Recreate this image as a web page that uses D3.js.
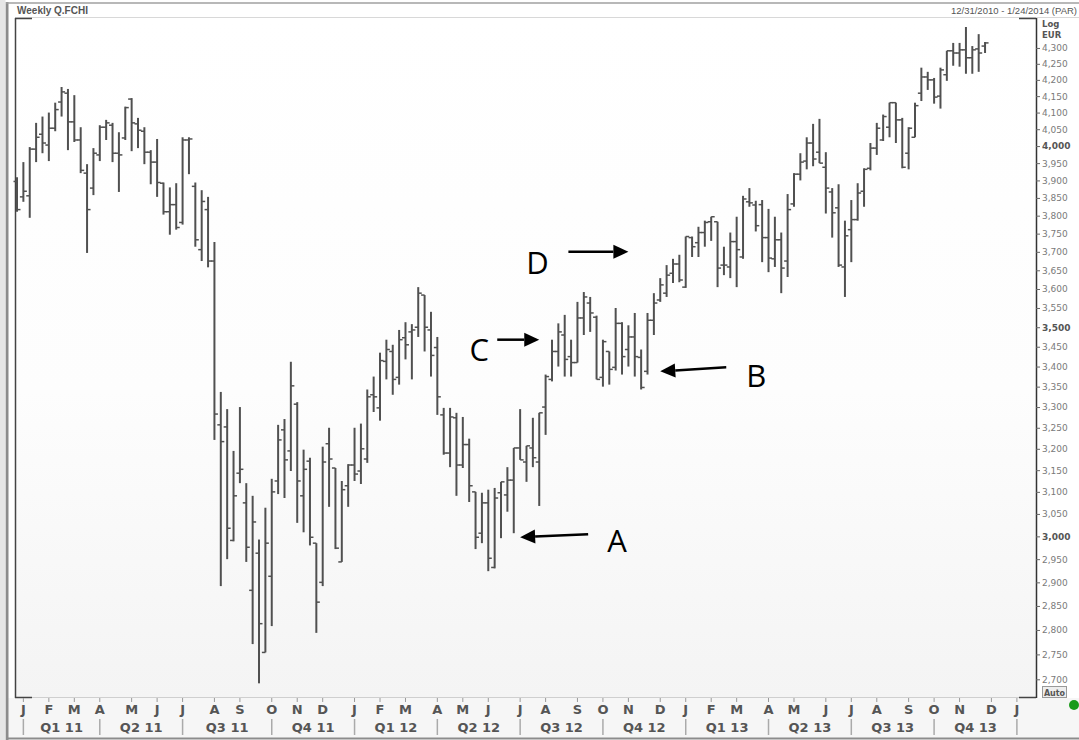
<!DOCTYPE html>
<html><head><meta charset="utf-8">
<script src="https://cdn.jsdelivr.net/npm/d3@7"></script>
<style>body{margin:0;background:#fff;} svg{display:block;}</style>
</head><body><svg id="c" width="1079" height="740"></svg>
<script>
// ---- data ----
const startDate = new Date(2010, 11, 31);   // first weekly bar
const endDate = new Date(2014, 0, 24);      // end of displayed range
const titleText = "Weekly Q.FCHI";
const rangeText = "12/31/2010 - 1/24/2014 (PAR)";
const openV = [3897,3853,3856,3991,4035,4003,4053,4132,4159,4072,4018,3921,3878,3974,4056,4062,3979,4024,4141,4066,
4044,3982,3953,3892,3811,3831,3781,4018,3883,3706,3817,3675,3257,3252,2991,3143,3075,2883,2963,2754,
2913,3125,3245,3195,3307,3091,3171,2985,2900,3212,3155,2944,3114,3162,3148,3176,3330,3298,3413,3438,
3373,3473,3488,3500,3584,3493,3448,3281,3190,3274,3162,3210,3100,3007,3075,2932,3098,3093,3127,3202,
3169,3202,3169,3300,3368,3438,3480,3425,3410,3524,3563,3526,3373,3438,3398,3510,3443,3475,3423,3388,
3518,3571,3589,3642,3667,3605,3739,3725,3753,3783,3783,3664,3659,3728,3686,3839,3830,3831,3739,3681,
3733,3675,3833,3918,3956,4009,3982,3938,3867,3822,3659,3761,3789,3869,3935,3994,4018,4056,4130,4078,
3979,4026,4159,4209,4200,4150,4216,4291,4284,4294,4269,4297,4306];
const highV = [3909,3953,3997,4069,4088,4100,4130,4178,4172,4153,4056,3947,3994,4062,4078,4069,4041,4118,4144,4084,
4056,3988,4021,3894,3880,3892,4026,4026,3894,3872,3853,3727,3337,3295,3195,3300,3120,3091,2993,3064,
3130,3257,3271,3412,3312,3198,3179,2985,3205,3250,3155,3125,3164,3250,3260,3343,3375,3435,3468,3455,
3493,3513,3508,3605,3584,3540,3475,3298,3298,3286,3276,3224,3100,3098,3105,3109,3123,3157,3202,3295,
3207,3274,3286,3380,3468,3510,3532,3468,3566,3592,3579,3530,3468,3438,3550,3513,3505,3537,3443,3537,
3589,3629,3664,3681,3692,3742,3742,3769,3786,3797,3783,3714,3753,3797,3856,3878,3842,3844,3819,3797,
3753,3861,3921,3979,4026,4066,4081,3982,3878,3889,3786,3844,3892,3935,4009,4069,4094,4130,4130,4084,
4056,4130,4238,4225,4206,4238,4291,4316,4316,4367,4306,4344,4319];
const lowV = [3811,3839,3794,3953,3979,3956,4044,4088,3988,4012,3921,3697,3858,3956,4018,3953,3867,4018,3985,3994,
3947,3889,3853,3803,3747,3761,3775,3918,3714,3675,3658,3221,2892,2950,2989,3120,2944,2771,2692,2754,
2808,3095,3086,3148,3030,3009,2980,2794,2892,3066,2972,2944,3066,3125,3118,3167,3288,3267,3368,3330,
3355,3418,3368,3475,3438,3375,3281,3186,3157,3091,3155,3077,2972,2985,2924,2930,2996,3055,3007,3174,
3123,3157,3068,3233,3363,3400,3375,3375,3410,3480,3488,3368,3350,3355,3390,3380,3400,3375,3343,3380,
3480,3566,3579,3616,3618,3603,3686,3686,3714,3730,3605,3637,3629,3605,3681,3825,3756,3672,3645,3659,
3589,3632,3825,3900,3932,3941,3950,3806,3739,3659,3579,3672,3786,3825,3929,3974,4015,4026,4009,3935,
3932,4026,4135,4169,4127,4112,4197,4244,4241,4219,4219,4225,4284];
const closeV = [3817,3869,3991,4026,4009,4053,4109,4163,4072,4018,3929,3817,3979,4056,4069,3979,3974,4115,4069,4047,
3982,3953,3894,3811,3831,3767,4018,4021,3733,3840,3675,3283,3217,3018,3091,3152,2976,3032,2813,2985,
3100,3221,3174,3352,3125,3152,2998,2858,3169,3176,2974,3105,3162,3141,3200,3325,3325,3415,3443,3368,
3468,3455,3493,3589,3500,3428,3325,3190,3276,3162,3210,3114,2998,3075,2952,3086,3123,3127,3202,3174,
3207,3179,3286,3375,3438,3488,3418,3410,3524,3579,3537,3368,3463,3393,3510,3425,3475,3425,3348,3518,
3563,3611,3637,3667,3624,3742,3714,3753,3781,3797,3656,3664,3728,3706,3847,3836,3772,3739,3683,3733,
3656,3817,3918,3953,4009,3962,3950,3878,3808,3664,3744,3789,3864,3932,3994,4053,4088,4130,4078,3938,
4053,4121,4209,4200,4147,4231,4291,4284,4294,4269,4294,4284,4316];
const yTickValues = [2700,2750,2800,2850,2900,2950,3000,3050,3100,3150,3200,3250,3300,3350,3400,3450,3500,
3550,3600,3650,3700,3750,3800,3850,3900,3950,4000,4050,4100,4150,4200,4250,4300];
const boldTicks = [3000, 3500, 4000];
const monthLetters = ["J","F","M","A","M","J","J","A","S","O","N","D"];
const quarterLabels = ["Q1 11","Q2 11","Q3 11","Q4 11","Q1 12","Q2 12","Q3 12","Q4 12","Q1 13","Q2 13","Q3 13","Q4 13"];
const annotations = [
  {label:"A", week:79, price:2998, tail:[68,-3], text:[97,3]},
  {label:"B", week:101, price:3388, tail:[66,-4], text:[96,4]},
  {label:"C", week:82, price:3468, tail:[-42,0], text:[-60,9]},
  {label:"D", week:96, price:3700, tail:[-60,0], text:[-91,10]}
];

// ---- layout ----
const W = 1079, H = 740;
const L = 15, R = 1036, T = 18, B = 697;
const svg = d3.select("#c");
const dateOf = i => d3.timeDay.offset(startDate, 7 * i);
const bars = openV.map((o, i) => ({d: dateOf(i), o, h: highV[i], l: lowV[i], c: closeV[i]}));

const x = d3.scaleTime().domain([startDate, endDate]).range([17, R]);
const y = d3.scaleLog().domain([2665, 4396]).range([B, T]);

// gradient
const defs = svg.append("defs");
const g1 = defs.append("linearGradient").attr("id", "bg").attr("x1", 0).attr("y1", 0).attr("x2", 0).attr("y2", 1);
g1.append("stop").attr("offset", "0%").attr("stop-color", "#ffffff");
g1.append("stop").attr("offset", "55%").attr("stop-color", "#fdfdfd");
g1.append("stop").attr("offset", "100%").attr("stop-color", "#f4f4f4");

svg.append("rect").attr("width", W).attr("height", H).attr("fill", "#ffffff");
svg.append("rect").attr("x", 8).attr("y", B + 1).attr("width", W - 8).attr("height", H - B - 3).attr("fill", "#f6f6f6");
svg.append("rect").attr("x", L).attr("y", T).attr("width", R - L).attr("height", B - T).attr("fill", "url(#bg)");

// outer frame
svg.append("line").attr("x1", 7).attr("x2", 7).attr("y1", 2).attr("y2", H).attr("stroke", "#8c8c8c").attr("stroke-width", 3);
svg.append("rect").attr("x", 0).attr("y", 0).attr("width", 5.5).attr("height", H).attr("fill", "#e6e6e6");
svg.append("line").attr("x1", 6).attr("x2", W).attr("y1", 3).attr("y2", 3).attr("stroke", "#a0a0a0").attr("stroke-width", 1.5);
svg.append("line").attr("x1", 6).attr("x2", W).attr("y1", 738.5).attr("y2", 738.5).attr("stroke", "#8c8c8c").attr("stroke-width", 2);

// title texts
svg.append("text").attr("x", 17).attr("y", 14).text(titleText)
  .attr("font-family", "Liberation Sans, Arial, sans-serif").attr("font-weight", "bold").attr("font-size", 10).attr("fill", "#555");
svg.append("text").attr("x", 1077).attr("y", 14).attr("text-anchor", "end").text(rangeText)
  .attr("font-family", "Liberation Sans, Arial, sans-serif").attr("font-size", 9.5).attr("fill", "#555");

// plot frame
svg.append("line").attr("x1", L).attr("x2", W).attr("y1", 17.5).attr("y2", 17.5).attr("stroke", "#d8d8d8");
svg.append("line").attr("x1", L).attr("x2", R).attr("y1", B + 0.5).attr("y2", B + 0.5).attr("stroke", "#cfcfcf");
svg.append("line").attr("x1", L + 0.5).attr("x2", L + 0.5).attr("y1", T).attr("y2", B + 1).attr("stroke", "#444").attr("stroke-width", 1.5);
[[L, T], [R - 17, T], [L, B], [R - 17, B]].forEach(([a, b]) => {
  svg.append("line").attr("x1", a).attr("x2", a + 17).attr("y1", b + 0.5).attr("y2", b + 0.5).attr("stroke", "#444").attr("stroke-width", 1.5);
});

// y axis
const yAxis = d3.axisRight(y).tickValues(yTickValues).tickFormat(d3.format(",")).tickSize(4).tickPadding(2);
const ya = svg.append("g").attr("transform", `translate(${R},0)`).call(yAxis);
ya.select(".domain").attr("stroke", "#333").attr("stroke-width", 1.5).attr("d", `M0.5,${T}V${B + 1}`);
ya.selectAll(".tick line").attr("stroke", "#666");
ya.selectAll(".tick text").attr("font-family", "DejaVu Sans, Verdana, sans-serif").attr("font-size", 9)
  .attr("fill", d => boldTicks.includes(d) ? "#555" : "#7a7a7a")
  .attr("font-weight", d => boldTicks.includes(d) ? "bold" : "normal");
svg.append("text").attr("x", 1042).attr("y", 27).text("Log")
  .attr("font-family", "DejaVu Sans, Verdana, sans-serif").attr("font-weight", "bold").attr("font-size", 8.5).attr("fill", "#555");
svg.append("text").attr("x", 1042).attr("y", 38).text("EUR")
  .attr("font-family", "DejaVu Sans, Verdana, sans-serif").attr("font-weight", "bold").attr("font-size", 8.5).attr("fill", "#555");

// Auto box & status dot
svg.append("rect").attr("x", 1042.5).attr("y", 686.5).attr("width", 24).attr("height", 11).attr("fill", "#eeeeee").attr("stroke", "#999");
svg.append("text").attr("x", 1054.5).attr("y", 695.5).attr("text-anchor", "middle").text("Auto")
  .attr("font-family", "DejaVu Sans, Verdana, sans-serif").attr("font-weight", "bold").attr("font-size", 8).attr("fill", "#555");
svg.append("circle").attr("cx", 1074).attr("cy", 705).attr("r", 5).attr("fill", "#1a9a1a");

// x axis: month letters
const months = d3.timeMonth.range(new Date(2011, 0, 1), new Date(2014, 0, 2));
const monthPos = months.map(m => ({m, px: x(d3.timeFriday.ceil(m))}));
const xa = svg.append("g");
xa.selectAll("line.mt").data(monthPos).join("line").attr("class", "mt")
  .attr("x1", d => d.px).attr("x2", d => d.px).attr("y1", B + 1).attr("y2", B + 5).attr("stroke", "#999");
xa.selectAll("text.ml").data(monthPos).join("text").attr("class", "ml")
  .attr("x", d => d.px).attr("y", 714).attr("text-anchor", "middle")
  .text(d => monthLetters[d.m.getMonth()])
  .attr("font-family", "DejaVu Sans, Verdana, sans-serif").attr("font-weight", "bold").attr("font-size", 13).attr("fill", "#555");
// quarters
const qStarts = monthPos.filter(d => d.m.getMonth() % 3 === 0);
xa.selectAll("line.qs").data(qStarts).join("line").attr("class", "qs")
  .attr("x1", d => d.px).attr("x2", d => d.px).attr("y1", 719).attr("y2", 735).attr("stroke", "#aaa").attr("stroke-width", 1.5);
xa.selectAll("text.ql").data(quarterLabels).join("text").attr("class", "ql")
  .attr("x", (d, i) => (qStarts[i].px + qStarts[i + 1].px) / 2).attr("y", 732).attr("text-anchor", "middle")
  .text(d => d)
  .attr("font-family", "DejaVu Sans, Verdana, sans-serif").attr("font-weight", "bold").attr("font-size", 13).attr("fill", "#555");

// OHLC bars
const gb = svg.append("g").attr("stroke", "#505050");
gb.selectAll("line.hl").data(bars).join("line").attr("class", "hl")
  .attr("x1", d => x(d.d)).attr("x2", d => x(d.d)).attr("y1", d => y(d.h)).attr("y2", d => y(d.l)).attr("stroke-width", 2);
gb.selectAll("line.op").data(bars).join("line").attr("class", "op")
  .attr("x1", d => x(d.d) - 3.5).attr("x2", d => x(d.d)).attr("y1", d => y(d.o)).attr("y2", d => y(d.o)).attr("stroke-width", 1.5);
gb.selectAll("line.cl").data(bars).join("line").attr("class", "cl")
  .attr("x1", d => x(d.d)).attr("x2", d => x(d.d) + 3.5).attr("y1", d => y(d.c)).attr("y2", d => y(d.c)).attr("stroke-width", 1.5);

// annotations
const ga = svg.append("g");
annotations.forEach(a => {
  const tx = x(dateOf(a.week)), ty = y(a.price);
  const sx = tx + a.tail[0], sy = ty + a.tail[1];
  const ang = Math.atan2(ty - sy, tx - sx);
  const hl = 15, hw = 7;
  const bx = tx - hl * Math.cos(ang), by = ty - hl * Math.sin(ang);
  ga.append("line").attr("x1", sx).attr("y1", sy).attr("x2", bx).attr("y2", by).attr("stroke", "#000").attr("stroke-width", 2.5);
  const px = -Math.sin(ang), py = Math.cos(ang);
  ga.append("polygon").attr("fill", "#000")
    .attr("points", [[tx, ty], [bx + px * hw, by + py * hw], [bx - px * hw, by - py * hw]].map(p => p.join(",")).join(" "));
  ga.append("text").attr("x", tx + a.text[0]).attr("y", ty + a.text[1]).attr("text-anchor", "middle")
    .attr("dominant-baseline", "central").text(a.label)
    .attr("font-family", "Open Sans, Noto Sans, sans-serif").attr("font-size", 31).attr("fill", "#000");
});
</script></body></html>
